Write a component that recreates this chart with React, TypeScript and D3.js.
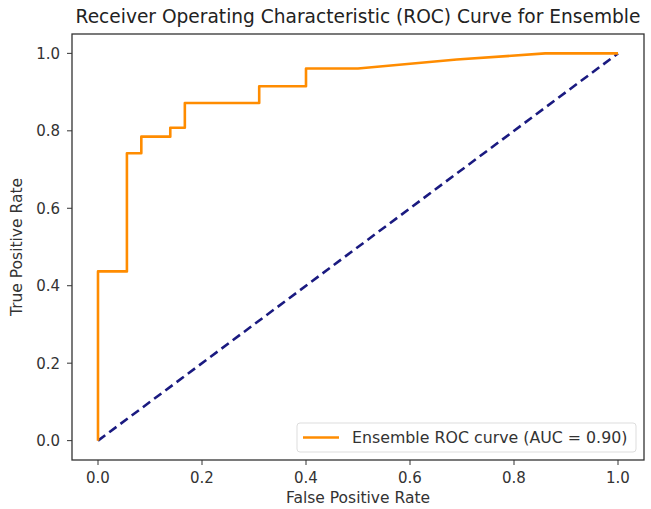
import React from "react";
import * as d3 from "d3";

// ROC curve points (false positive rate, true positive rate)
const fpr = [0.0, 0.0, 0.0556, 0.0556, 0.0833, 0.0833, 0.139, 0.139, 0.167, 0.167, 0.31, 0.31, 0.40, 0.40, 0.50, 0.69, 0.86, 1.0];
const tpr = [0.0, 0.437, 0.437, 0.742, 0.742, 0.785, 0.785, 0.808, 0.808, 0.872, 0.872, 0.915, 0.915, 0.961, 0.961, 0.984, 1.0, 1.0];
const chanceX = [0, 1];
const chanceY = [0, 1];
const xTicks = [0.0, 0.2, 0.4, 0.6, 0.8, 1.0];
const yTicks = [0.0, 0.2, 0.4, 0.6, 0.8, 1.0];
const aucValue = 0.9;

const W = 651;
const H = 509;
const M = { left: 72, right: 7, top: 34, bottom: 49 };
const FONT = "'DejaVu Sans', sans-serif";

export default function App() {
  const x = d3.scaleLinear().domain([-0.05, 1.05]).range([M.left, W - M.right]);
  const y = d3.scaleLinear().domain([-0.05, 1.05]).range([H - M.bottom, M.top]);
  const line = d3
    .line<[number, number]>()
    .x((d) => x(d[0]))
    .y((d) => y(d[1]));
  const roc = fpr.map((f, i) => [f, tpr[i]] as [number, number]);
  const chance = chanceX.map((f, i) => [f, chanceY[i]] as [number, number]);

  const plotW = W - M.left - M.right;
  const plotH = H - M.top - M.bottom;
  const legendW = 339;
  const legendH = 29;
  const legendX = 297;
  const legendY = H - M.bottom - 8 - legendH;

  return (
    <svg
      width={W}
      height={H}
      style={{ position: "absolute", left: 0, top: 0, background: "#fff" }}
      fontFamily={FONT}
    >
      <rect x={0} y={0} width={W} height={H} fill="#fff" />
      <text
        x={M.left + plotW / 2}
        y={23}
        textAnchor="middle"
        fontSize={18.6}
        fill="#222"
      >
        Receiver Operating Characteristic (ROC) Curve for Ensemble
      </text>

      {/* chance diagonal */}
      <path
        d={line(chance) || ""}
        fill="none"
        stroke="#1a1a80"
        strokeWidth={2.6}
        strokeDasharray="9,5"
      />
      {/* ROC curve */}
      <path
        d={line(roc) || ""}
        fill="none"
        stroke="#ff8c00"
        strokeWidth={2.6}
        strokeLinejoin="round"
      />

      {/* frame */}
      <rect
        x={M.left}
        y={M.top}
        width={plotW}
        height={plotH}
        fill="none"
        stroke="#333"
        strokeWidth={1.3}
      />

      {xTicks.map((t) => (
        <g key={"x" + t}>
          <line x1={x(t)} x2={x(t)} y1={H - M.bottom} y2={H - M.bottom + 5} stroke="#333" />
          <text x={x(t)} y={H - M.bottom + 23} textAnchor="middle" fontSize={15} fill="#333">
            {t.toFixed(1)}
          </text>
        </g>
      ))}
      {yTicks.map((t) => (
        <g key={"y" + t}>
          <line x1={M.left - 5} x2={M.left} y1={y(t)} y2={y(t)} stroke="#333" />
          <text x={M.left - 12} y={y(t) + 5.5} textAnchor="end" fontSize={15} fill="#333">
            {t.toFixed(1)}
          </text>
        </g>
      ))}

      <text x={M.left + plotW / 2} y={H - 6} textAnchor="middle" fontSize={15.5} fill="#333">
        False Positive Rate
      </text>
      <text
        transform={`translate(22,${M.top + plotH / 2}) rotate(-90)`}
        textAnchor="middle"
        fontSize={15.5}
        fill="#333"
      >
        True Positive Rate
      </text>

      {/* legend */}
      <rect
        x={legendX}
        y={legendY}
        width={legendW}
        height={legendH}
        rx={3}
        fill="#fff"
        fillOpacity={0.8}
        stroke="#ddd"
      />
      <line
        x1={legendX + 6}
        x2={legendX + 42}
        y1={legendY + legendH / 2}
        y2={legendY + legendH / 2}
        stroke="#ff8c00"
        strokeWidth={2.6}
      />
      <text x={legendX + 55} y={legendY + legendH / 2 + 5.5} fontSize={15.8} fill="#333">
        {`Ensemble ROC curve (AUC = ${aucValue.toFixed(2)})`}
      </text>
    </svg>
  );
}
